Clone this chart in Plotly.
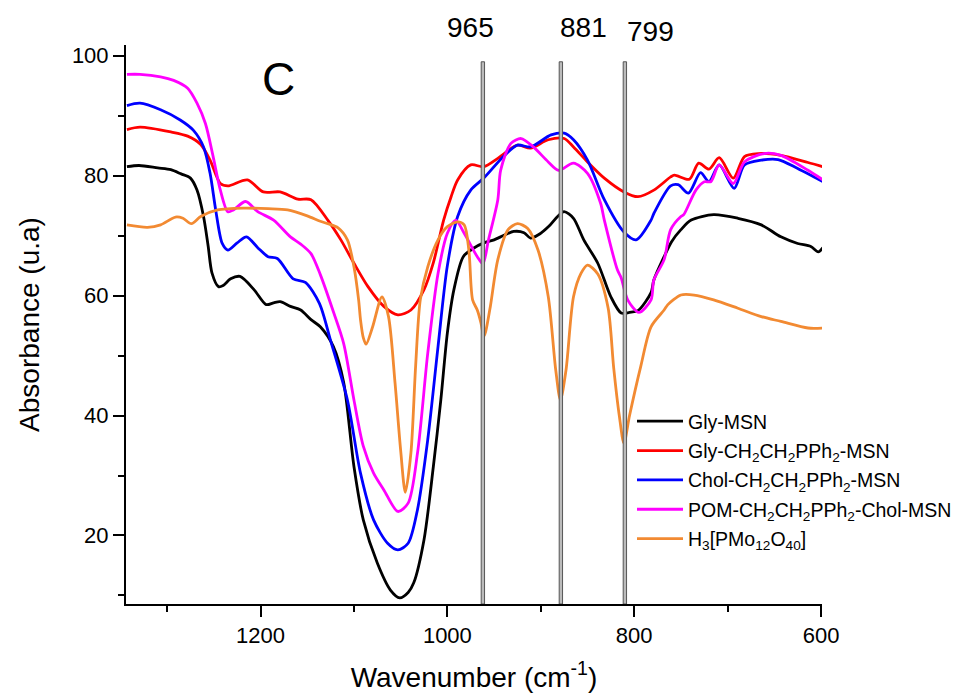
import plotly.graph_objects as go

# ---------------- data (wavenumber cm-1, absorbance u.a) ----------------
wn_gly = [1343, 1330, 1310, 1296, 1285, 1275, 1268, 1261, 1256, 1252, 1245, 1240, 1232, 1222, 1207,
          1194, 1186, 1179, 1168, 1157, 1146, 1136, 1122, 1111, 1100, 1090, 1075, 1061, 1051, 1042,
          1036, 1025, 1015, 1007, 1000, 993, 983, 972, 961, 950, 943, 929, 918, 911, 903, 890, 882,
          875, 865, 854, 839, 825, 814, 805, 796, 782, 779, 768, 760, 750, 739, 715, 689, 664, 643,
          625, 611, 603, 598]
abs_gly = [81.5, 81.7, 81.3, 81.0, 80.3, 79.6, 77.6, 73.2, 68.2, 63.8, 61.5, 61.7, 62.8, 63.2, 61.0,
           58.5, 58.8, 59.0, 58.2, 57.6, 56.0, 54.8, 51.5, 45.5, 31.5, 22.6, 15.4, 10.9, 9.6, 10.5,
           12.1, 19.3, 31.5, 42.6, 53.8, 61.0, 66.5, 67.9, 68.8, 69.3, 69.8, 70.7, 70.5, 69.6, 70.1,
           71.8, 73.2, 74.0, 72.9, 69.3, 65.4, 59.8, 57.1, 57.2, 57.5, 60.5, 62.6, 66.5, 69.0, 71.0,
           72.6, 73.5, 72.9, 71.8, 69.8, 68.7, 68.2, 67.3, 68.0]

wn_gly_p = [1343, 1329, 1296, 1278, 1264, 1254, 1243, 1235, 1214, 1197, 1179, 1160, 1146, 1128, 1114,
            1100, 1085, 1068, 1053, 1039, 1025, 1015, 1004, 996, 989, 975, 961, 946, 925, 911, 892,
            875, 865, 850, 832, 811, 796, 779, 761, 757, 741, 731, 720, 709, 694, 682, 667, 643, 614, 598]
abs_gly_p = [87.7, 88.1, 87.3, 86.6, 85.2, 82.6, 78.7, 78.3, 79.3, 77.3, 77.3, 76.1, 76.0, 72.6, 69.3,
             65.4, 61.5, 58.2, 56.8, 57.6, 61.0, 65.5, 72.6, 76.5, 79.3, 81.8, 81.5, 82.9, 85.1, 84.6, 86.0,
             86.2, 84.8, 82.3, 79.6, 77.3, 76.5, 77.6, 79.8, 80.1, 79.4, 82.1, 81.1, 83.0, 79.6, 83.2, 83.7,
             83.4, 82.2, 81.5]

wn_chol = [1343, 1329, 1307, 1286, 1272, 1261, 1254, 1248, 1241, 1235, 1225, 1215, 1203, 1192, 1182,
           1165, 1152, 1137, 1125, 1107, 1093, 1079, 1064, 1053, 1042, 1032, 1021, 1010, 1000, 989,
           975, 961, 940, 925, 911, 889, 875, 865, 850, 832, 811, 798, 782, 779, 761, 753, 742, 729,
           720, 709, 693, 682, 664, 646, 625, 598]
abs_chol = [91.7, 92.1, 91.0, 89.3, 87.6, 84.8, 80.4, 74.3, 68.7, 67.6, 68.8, 69.8, 68.0, 66.5, 66.2,
            62.8, 62.2, 58.7, 52.5, 42.6, 30.4, 22.6, 18.7, 17.6, 18.7, 24.3, 36.0, 51.5, 65.0, 73.2,
            77.6, 79.6, 83.2, 85.1, 84.8, 86.8, 87.1, 86.0, 82.6, 76.0, 70.6, 69.3, 72.6, 73.7, 78.3,
            78.5, 77.1, 80.5, 79.0, 81.8, 77.9, 81.8, 82.6, 82.7, 81.2, 79.0]

wn_pom = [1343, 1329, 1307, 1293, 1278, 1268, 1259, 1251, 1243, 1235, 1229, 1216, 1203, 1186, 1168,
          1157, 1146, 1136, 1122, 1111, 1100, 1090, 1079, 1068, 1053, 1042, 1032, 1021, 1010, 1000,
          991, 982, 968, 962, 956, 946, 943, 932, 921, 908, 892, 881, 865, 850, 836, 832, 818, 814,
          807, 795, 782, 779, 768, 761, 750, 747, 734, 725, 718, 709, 694, 682, 661, 643, 614, 598]
abs_pom = [96.9, 96.9, 96.5, 95.9, 94.6, 92.1, 88.7, 83.4, 77.6, 74.0, 74.3, 75.7, 74.0, 72.6, 69.8,
           68.6, 67.0, 63.5, 57.3, 52.0, 42.6, 34.9, 30.4, 27.6, 24.0, 25.4, 33.7, 50.4, 63.7, 70.4,
           72.6, 70.4, 66.5, 65.3, 69.3, 76.0, 80.9, 85.4, 86.2, 84.8, 82.3, 80.9, 82.1, 80.4, 75.4,
           72.6, 64.3, 63.0, 59.3, 57.2, 59.3, 62.6, 66.0, 71.0, 73.2, 73.5, 77.6, 79.0, 79.0, 81.8,
           78.7, 82.3, 83.7, 83.4, 80.9, 79.3]

wn_pmo = [1343, 1321, 1307, 1291, 1283, 1274, 1264, 1246, 1218, 1192, 1171, 1150, 1136, 1128, 1117,
          1107, 1100, 1095, 1093, 1090, 1087, 1080, 1070, 1063, 1056, 1050, 1045, 1039, 1034, 1029,
          1021, 1010, 1000, 989, 982, 977, 973, 968, 964, 961, 959, 954, 946, 935, 925, 914, 903, 892,
          884, 879, 873, 865, 857, 850, 839, 828, 822, 816, 811, 805, 793, 782, 768, 764, 750, 736,
          715, 689, 664, 643, 614, 598]
abs_pmo = [71.8, 71.4, 71.8, 73.1, 72.9, 72.0, 73.2, 74.3, 74.6, 74.5, 74.3, 73.3, 72.4, 72.0, 71.3,
           69.3, 64.8, 59.3, 56.0, 53.0, 51.9, 54.8, 59.8, 56.5, 45.4, 34.2, 27.2, 33.8, 48.2, 59.3,
           64.8, 69.3, 71.5, 72.3, 71.8, 67.6, 59.3, 57.6, 55.4, 53.2, 54.0, 58.2, 66.0, 71.0, 72.0,
           71.2, 67.6, 59.8, 47.6, 42.6, 47.6, 59.8, 63.7, 65.1, 63.6, 58.0, 48.0, 40.0, 35.4, 40.0,
           48.2, 54.8, 57.6, 58.5, 60.1, 60.1, 59.3, 57.9, 56.5, 55.7, 54.6, 54.6]

series_names = ["Gly-MSN",
                "Gly-CH<sub>2</sub>CH<sub>2</sub>PPh<sub>2</sub>-MSN",
                "Chol-CH<sub>2</sub>CH<sub>2</sub>PPh<sub>2</sub>-MSN",
                "POM-CH<sub>2</sub>CH<sub>2</sub>PPh<sub>2</sub>-Chol-MSN",
                "H<sub>3</sub>[PMo<sub>12</sub>O<sub>40</sub>]"]
series_colors = ["#000000", "#FF0000", "#0000FF", "#FF00FF", "#F28A32"]
series_x = [wn_gly, wn_gly_p, wn_chol, wn_pom, wn_pmo]
series_y = [abs_gly, abs_gly_p, abs_chol, abs_pom, abs_pmo]

marker_pos = [962, 878.5, 810]
marker_labels = ["965", "881", "799"]
marker_label_x = [975, 854.5, 783]

x_range = [1344, 599]
y_range = [8.57, 101.8]
FONT = "Liberation Sans, Arial, sans-serif"

# plot area in pixels: left 126, right 822, top 45, bottom 604
PL, PR, PT, PB = 126, 822, 45, 604
PW, PH = PR - PL, PB - PT


def paper_y(py):
    return (PB - py) / PH


def paper_x(px):
    return (px - PL) / PW


fig = go.Figure()
for name, col, xs, ys in zip(series_names, series_colors, series_x, series_y):
    fig.add_trace(go.Scatter(x=xs, y=ys, mode="lines", name=name, legendgroup=name,
                             line=dict(color=col, width=2.8, shape="spline", smoothing=0.8)))

for pos in marker_pos:
    fig.add_shape(type="rect", xref="x", yref="y", x0=pos - 1.8, x1=pos + 1.8,
                  y0=y_range[0], y1=99, line=dict(color="#555555", width=1),
                  fillcolor="#BBBBBB", layer="above")

for lab, lx, py in zip(marker_labels, marker_label_x, [28, 27, 31.5]):
    fig.add_annotation(x=lx, y=paper_y(py), xref="x", yref="paper", text=lab, showarrow=False,
                       yanchor="middle", font=dict(size=28, color="black", family=FONT))

fig.add_annotation(x=1181, y=96.1, xref="x", yref="y", text="C", showarrow=False,
                   font=dict(size=46, color="black", family=FONT))

fig.update_layout(
    width=955, height=699,
    margin=dict(l=PL, r=955 - PR, t=PT, b=699 - PB, autoexpand=False),
    paper_bgcolor="white", plot_bgcolor="white",
    font=dict(family=FONT, color="black"),
    showlegend=True,
    legend=dict(x=paper_x(632), y=paper_y(402), xanchor="left", yanchor="top",
                bgcolor="rgba(0,0,0,0)", font=dict(size=19.5, family=FONT, color="black"),
                itemwidth=46, tracegroupgap=1),
    xaxis=dict(range=x_range, showgrid=False, zeroline=False, showline=True, linecolor="black",
               linewidth=2, ticks="outside", ticklen=11, tickwidth=2, tickcolor="black",
               tick0=600, dtick=200, tickfont=dict(size=22, family=FONT),
               minor=dict(ticks="outside", ticklen=6, tickwidth=2, tickcolor="black", dtick=100, tick0=600),
               title=dict(text="Wavenumber (cm<sup>-1</sup>)", font=dict(size=28, family=FONT), standoff=20)),
    yaxis=dict(range=y_range, showgrid=False, zeroline=False, showline=True, linecolor="black",
               linewidth=2, ticks="outside", ticklen=11, tickwidth=2, tickcolor="black",
               tick0=0, dtick=20, tickfont=dict(size=22, family=FONT),
               minor=dict(ticks="outside", ticklen=6, tickwidth=2, tickcolor="black", dtick=10, tick0=0),
               title=dict(text="Absorbance (u.a)", font=dict(size=28, family=FONT), standoff=24)),
)

fig.write_html("out.html")
